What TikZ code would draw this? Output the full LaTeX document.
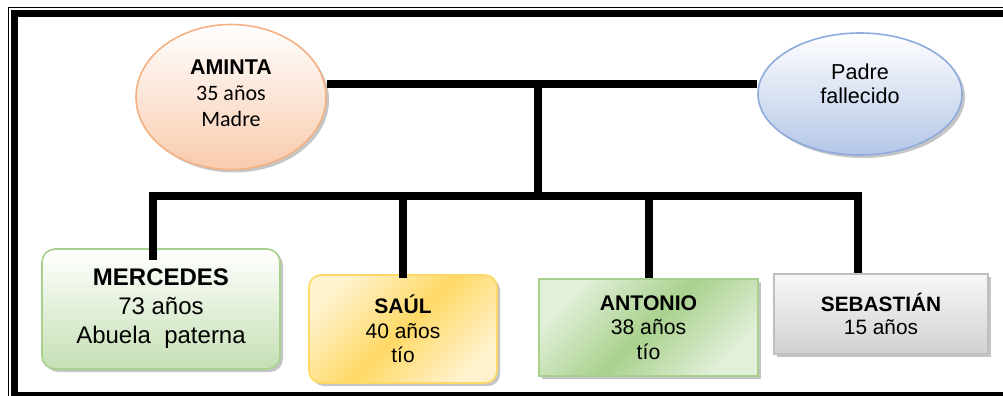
\documentclass[tikz,border=0pt]{standalone}
\usepackage{fontspec}
\setmainfont{Liberation Sans}
\newfontfamily\calibri{Carlito}
\usetikzlibrary{shapes.geometric, shadows, calc}
\definecolor{peach}{HTML}{F8CBAD}
\definecolor{peachline}{HTML}{F4B183}
\definecolor{skyfill}{HTML}{B4C7E7}
\definecolor{skyline}{HTML}{8FAADC}
\definecolor{leaf}{HTML}{C5E0B4}
\definecolor{leafline}{HTML}{A9D18E}
\definecolor{leaflight}{HTML}{E2F0D9}
\definecolor{sun}{HTML}{FFD966}
\definecolor{sunlight}{HTML}{FFF2CC}
\definecolor{ashline}{HTML}{BFBFBF}
\tikzset{
  shadowed/.style={drop shadow={shadow xshift=1.5pt, shadow yshift=-1.5pt, fill=black!45, opacity=0.5}},
  parent/.style={ellipse, draw, line width=0.8pt, align=center, shadowed},
  member/.style={rectangle, draw, line width=0.8pt, align=center, shadowed},
  link/.style={line width=4pt}
}

\begin{document}
\begin{tikzpicture}[x=0.5pt, y=-0.5pt]
\useasboundingbox (0,0) rectangle (1003,396);
% marco
\draw[line width=0.5pt] (8,7) rectangle (1018,402);
\draw[line width=3.5pt] (14.5,13.5) rectangle (1011,395.5);
% padres
\node[parent, draw=peachline, top color=white, bottom color=peach, minimum width=95pt, minimum height=72.5pt, text depth=4pt, font=\calibri\fontsize{11}{13}\selectfont] (aminta) at (231,97) {{\rmfamily\bfseries\fontsize{10.7}{13}\selectfont AMINTA}\\35 años\\Madre};
\node[parent, draw=skyline, top color=white, bottom color=skyfill, minimum width=102pt, minimum height=61pt, text depth=10pt, font=\fontsize{10.8}{12}\selectfont] (padre) at (860,94) {Padre\\fallecido};
% hijos
\node[member, rounded corners=6.5pt, draw=leafline, top color=white, bottom color=leaf, minimum width=119pt, minimum height=60pt, font=\fontsize{12}{14.5}\selectfont] (merc) at (161,309) {\textbf{MERCEDES}\\73 años\\Abuela\ \ paterna};
\node[member, rounded corners=6pt, draw=sun, top color=sunlight, bottom color=sunlight, middle color=sun, shading angle=45, minimum width=94pt, minimum height=54pt, font=\fontsize{10.5}{12.25}\selectfont] (saul) at (403,329) {\textbf{SAÚL}\\40 años\\tío};
\node[member, draw=leafline, top color=leaflight, bottom color=leaflight, middle color=leafline, shading angle=45, minimum width=109.5pt, minimum height=48.5pt, font=\fontsize{10.6}{12.25}\selectfont] (anto) at (648.5,327.5) {\textbf{ANTONIO}\\38 años\\tío};
\node[member, draw=ashline, top color=black!3, bottom color=black!18, minimum width=107pt, minimum height=40pt, font=\fontsize{10.4}{11.5}\selectfont] (sebas) at (881,314) {\textbf{SEBASTIÁN}\\15 años};
% lineas
\coordinate (couple) at (538,83.5);
\coordinate (bus) at (538,195.5);
\draw[link] (aminta.east |- couple) -- (padre.west |- couple);
\draw[link] (couple) -- (bus);
\draw[link] ($(merc.north)+(-8,12)$) |- (bus) -| ($(sebas.north)+(-23,0)$);
\draw[link] (saul.north |- bus) -- ($(saul.north)+(0,4)$);
\draw[link] (anto.north |- bus) -- (anto.north);
\end{tikzpicture}
\end{document}
